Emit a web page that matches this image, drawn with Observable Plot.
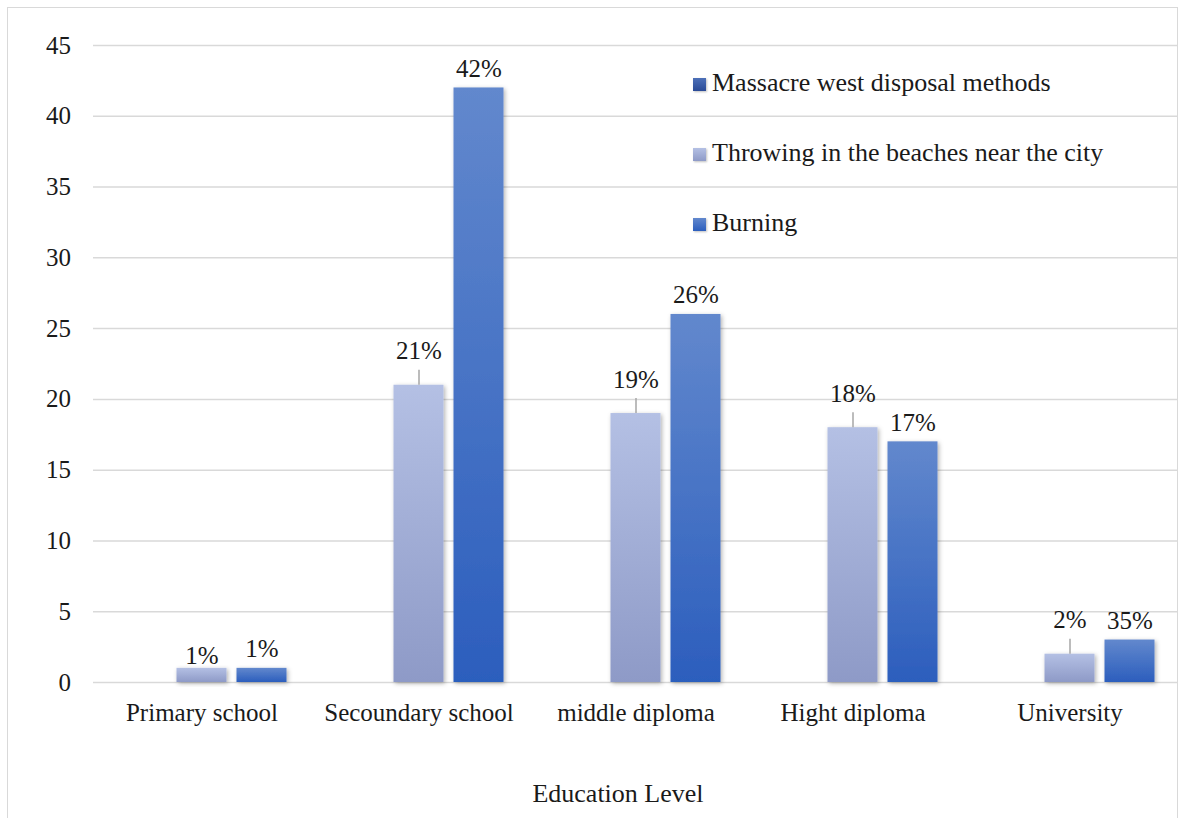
<!DOCTYPE html>
<html>
<head>
<meta charset="utf-8">
<script src="https://cdn.jsdelivr.net/npm/d3@7"></script>
<script src="https://cdn.jsdelivr.net/npm/@observablehq/plot@0.6"></script>
<style>
  html, body { margin: 0; padding: 0; background: #fff; }
  body { width: 1179px; height: 818px; overflow: hidden; font-family: "Liberation Serif", serif; color: #1a1a1a; }
  #wrap { position: relative; width: 1179px; height: 818px; }
  #frame { position: absolute; left: 7px; top: 7px; width: 1171px; height: 860px; border: 1.5px solid #d9d9d9; box-sizing: border-box; pointer-events: none; }
  #chart { position: absolute; left: 0; top: 0; }
  #legend { position: absolute; left: 693px; top: 70px; font-size: 26px; line-height: 1; }
  .item { position: absolute; left: 0; white-space: nowrap; display: flex; align-items: center; }
  .sw { width: 13px; height: 13px; margin-right: 6px; margin-top: 3px; box-shadow: 1px 1px 2px rgba(0,0,0,0.25); }
  #xtitle { position: absolute; top: 779px; left: 518px; width: 200px; text-align: center; font-size: 26px; }
</style>
</head>
<body>
<div id="wrap">
  <div id="chart"></div>
  <div id="frame"></div>
  <div id="legend"></div>
  <div id="xtitle">Education Level</div>
</div>
<script>
// ---- data ----
const categories = ["Primary school", "Secoundary school", "middle diploma", "Hight diploma", "University"];
const seriesNames = ["Massacre west disposal methods", "Throwing in the beaches near the city", "Burning"];
const massacreValues = [0, 0, 0, 0, 0];
const throwingValues = [1, 21, 19, 18, 2];
const burningValues = [1, 42, 26, 17, 3];
const throwingLabels = ["1%", "21%", "19%", "18%", "2%"];
const burningLabels = ["1%", "42%", "26%", "17%", "35%"];
const throwingLeader = [false, true, true, true, true];
const yTicks = [0, 5, 10, 15, 20, 25, 30, 35, 40, 45];
const xTitle = "Education Level";

// ---- build rows ----
const rows = [];
categories.forEach((c, i) => {
  rows.push({category: c, series: seriesNames[0], value: massacreValues[i], label: "", leader: false});
  rows.push({category: c, series: seriesNames[1], value: throwingValues[i], label: throwingLabels[i], leader: throwingLeader[i]});
  rows.push({category: c, series: seriesNames[2], value: burningValues[i], label: burningLabels[i], leader: false});
});
const barRows = rows.filter(d => d.value > 0);
const throwLeadRows = rows.filter(d => d.series === seriesNames[1] && d.leader);
const throwNearRows = rows.filter(d => d.series === seriesNames[1] && !d.leader && d.value > 0);
const burnRows = rows.filter(d => d.series === seriesNames[2] && d.value > 0);

const gradIds = ["gM", "gT", "gB"];
const gradStops = [["#4d70b8", "#2a4a96"], ["#b4c0e4", "#8e9ac7"], ["#6288cd", "#2c5ebd"]];

const plot = Plot.plot({
  width: 1179,
  height: 818,
  marginTop: 45,
  marginBottom: 136,
  marginLeft: 92.5,
  marginRight: 1.5,
  style: {fontFamily: "Liberation Serif, serif", fontSize: "25px", color: "#1a1a1a", background: "transparent", overflow: "visible"},
  fx: {domain: categories, padding: 0, label: null, tickSize: 0, tickPadding: 21, axis: "bottom"},
  x: {domain: seriesNames, paddingInner: 1/6, paddingOuter: 0.39, axis: null},
  y: {domain: [0, 45], ticks: yTicks, tickSize: 0, tickPadding: 22.5, label: null},
  color: {domain: seriesNames, range: gradIds.map(id => `url(#${id})`)},
  marks: [
    Plot.ruleY(yTicks, {stroke: "#d9d9d9", strokeWidth: 1.5}),
    Plot.barY(barRows, {fx: "category", x: "series", y: "value", fill: "series"}),
    Plot.ruleX(throwLeadRows, {fx: "category", x: "series", y1: "value", y2: "value", insetTop: -15, stroke: "#a6a6a6", strokeWidth: 1.5}),
    Plot.text(throwLeadRows, {fx: "category", x: "series", y: "value", text: "label", dy: -34, fill: "#1a1a1a", fontSize: 25}),
    Plot.text(throwNearRows, {fx: "category", x: "series", y: "value", text: "label", dy: -12, fill: "#1a1a1a", fontSize: 25}),
    Plot.text(burnRows, {fx: "category", x: "series", y: "value", text: "label", dy: -19, fill: "#1a1a1a", fontSize: 25})
  ]
});

// gradients + shadow
const svg = d3.select(plot);
const defs = svg.insert("defs", ":first-child");
gradIds.forEach((id, k) => {
  const g = defs.append("linearGradient").attr("id", id).attr("x1", 0).attr("y1", 0).attr("x2", 0).attr("y2", 1);
  g.append("stop").attr("offset", "0%").attr("stop-color", gradStops[k][0]);
  g.append("stop").attr("offset", "100%").attr("stop-color", gradStops[k][1]);
});
const f = defs.append("filter").attr("id", "shadow").attr("x", "-20%").attr("y", "-20%").attr("width", "150%").attr("height", "150%");
f.append("feDropShadow").attr("dx", 1.5).attr("dy", 1.5).attr("stdDeviation", 2).attr("flood-color", "#000").attr("flood-opacity", 0.3);
svg.selectAll('g[aria-label="bar"] rect').attr("filter", "url(#shadow)");

document.getElementById("chart").appendChild(plot);

// legend
const legend = document.getElementById("legend");
const rowTops = [0, 70, 140];
seriesNames.forEach((s, k) => {
  const it = document.createElement("div");
  it.className = "item";
  it.style.top = rowTops[k] + "px";
  const sw = document.createElement("span");
  sw.className = "sw";
  sw.style.background = `linear-gradient(${gradStops[k][0]}, ${gradStops[k][1]})`;
  const tx = document.createElement("span");
  tx.textContent = s;
  it.appendChild(sw);
  it.appendChild(tx);
  legend.appendChild(it);
});
document.getElementById("xtitle").textContent = xTitle;
</script>
</body>
</html>
